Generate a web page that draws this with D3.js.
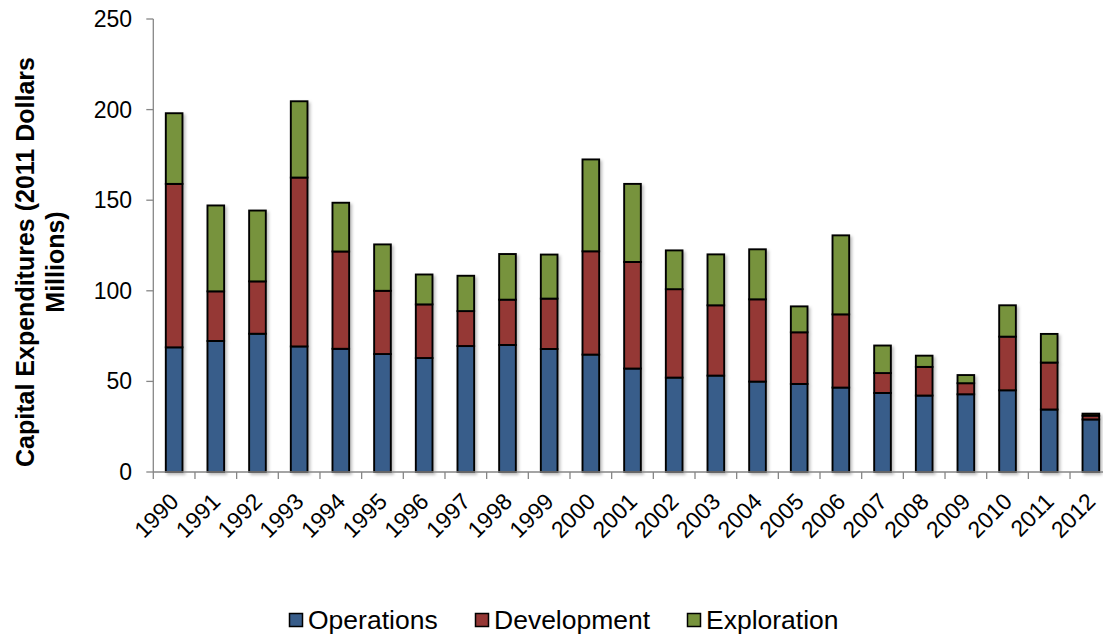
<!DOCTYPE html>
<html>
<head>
<meta charset="utf-8">
<script src="https://cdn.jsdelivr.net/npm/d3@7"></script>
<style>
  html, body { margin: 0; padding: 0; background: #fff; }
  svg { display: block; font-family: "Liberation Sans", Arial, sans-serif; }
</style>
</head>
<body>
<svg id="chart" width="1103" height="635"></svg>
<script>
"use strict";

/* ── Data ─────────────────────────────────────────────── */
const years = ["1990","1991","1992","1993","1994","1995","1996","1997","1998","1999","2000",
               "2001","2002","2003","2004","2005","2006","2007","2008","2009","2010","2011","2012"];
const operations  = [68.8,72.3,76.3,69.3,68.0,65.1,62.9,69.5,70.1,67.9,64.8,57.1,52.1,53.2,49.9,48.6,46.6,43.6,42.2,42.9,45.1,34.5,29.0];
const development = [90.2,27.4,28.9,93.2,53.7,34.9,29.6,19.3,25.0,27.8,57.0,58.8,48.8,38.8,45.4,28.5,40.4,11.0,15.8,6.1,29.6,25.9,2.1];
const exploration = [39.0,47.4,39.1,42.1,26.9,25.6,16.5,19.5,25.2,24.3,50.7,43.1,21.4,28.1,27.6,14.3,43.6,15.2,6.2,4.5,17.3,15.8,1.1];
const seriesNames = ["Operations", "Development", "Exploration"];
const yTicks = [0, 50, 100, 150, 200, 250];

const COLORS = { Operations: "#385d8a", Development: "#953735", Exploration: "#77933c" };

/* ── Layout ───────────────────────────────────────────── */
const X0 = 153.3, X1 = 1111.7, Y0 = 472, Y1 = 19;
const AXIS = "#868686";

const svg = d3.select("#chart");

const rows = years.map((y, i) => ({
  year: y, Operations: operations[i], Development: development[i], Exploration: exploration[i]
}));
const stacked = d3.stack().keys(seriesNames)(rows);

const x = d3.scaleBand().domain(years).range([X0, X1]).paddingInner(0.6).paddingOuter(0.3);
const y = d3.scaleLinear().domain([0, 250]).range([Y0, Y1]);

/* soft shadow like the office chart */
const defs = svg.append("defs");
const f = defs.append("filter").attr("id", "shadow")
  .attr("x", "-30%").attr("y", "-10%").attr("width", "160%").attr("height", "120%");
f.append("feDropShadow").attr("dx", 2).attr("dy", 2).attr("stdDeviation", 1.5)
  .attr("flood-color", "#000").attr("flood-opacity", 0.25);

/* ── Y axis ───────────────────────────────────────────── */
const gy = svg.append("g");
gy.append("line").attr("x1", X0).attr("x2", X0).attr("y1", Y1).attr("y2", Y0)
  .attr("stroke", AXIS).attr("stroke-width", 1.3);
gy.selectAll(".yt").data(yTicks).enter().append("line")
  .attr("x1", X0 - 7).attr("x2", X0).attr("y1", d => y(d)).attr("y2", d => y(d))
  .attr("stroke", AXIS).attr("stroke-width", 1.3);
gy.selectAll(".yl").data(yTicks).enter().append("text")
  .attr("x", 132).attr("y", d => y(d)).attr("dy", "0.35em")
  .attr("text-anchor", "end").attr("font-size", 23).attr("fill", "#000")
  .text(d => d);

/* ── Y title ──────────────────────────────────────────── */
const title = svg.append("text")
  .attr("transform", "translate(0,262) rotate(-90)")
  .attr("text-anchor", "middle").attr("font-size", 25).attr("font-weight", "bold");
title.append("tspan").attr("x", 0).attr("y", 34).text("Capital Expenditures (2011 Dollars");
title.append("tspan").attr("x", 0).attr("y", 64).text("Millions)");

/* ── Bars ─────────────────────────────────────────────── */
const gb = svg.append("g").attr("filter", "url(#shadow)");
stacked.forEach(s => {
  gb.append("g").selectAll("rect").data(s).enter().append("rect")
    .attr("x", d => x(d.data.year))
    .attr("width", x.bandwidth())
    .attr("y", d => y(d[1]))
    .attr("height", d => y(d[0]) - y(d[1]))
    .attr("fill", COLORS[s.key])
    .attr("stroke", "#000").attr("stroke-width", 1.9);
});

/* ── X axis ───────────────────────────────────────────── */
const gx = svg.append("g");
gx.append("line").attr("x1", X0).attr("x2", 1103).attr("y1", Y0).attr("y2", Y0)
  .attr("stroke", AXIS).attr("stroke-width", 1.3);
const step = x.step();
const bounds = d3.range(years.length + 1).map(i => X0 + i * step);
gx.selectAll(".xt").data(bounds).enter().append("line")
  .attr("x1", d => d).attr("x2", d => d).attr("y1", Y0).attr("y2", Y0 + 7)
  .attr("stroke", AXIS).attr("stroke-width", 1.3);
gx.selectAll(".xl").data(years).enter().append("text")
  .attr("transform", d => `translate(${x(d) + x.bandwidth() / 2 + 6},503) rotate(-45)`)
  .attr("text-anchor", "end").attr("font-size", 23).attr("fill", "#000")
  .text(d => d);

/* ── Legend ───────────────────────────────────────────── */
const legendX = [289, 475, 687];
const lg = svg.append("g");
seriesNames.forEach((name, i) => {
  lg.append("rect").attr("x", legendX[i] + 0.5).attr("y", 613.5).attr("width", 13).attr("height", 13)
    .attr("fill", COLORS[name]).attr("stroke", "#000").attr("stroke-width", 1.5);
  lg.append("text").attr("x", legendX[i] + 19).attr("y", 629)
    .attr("font-size", 26.5).attr("fill", "#000").text(name);
});
</script>
</body>
</html>
